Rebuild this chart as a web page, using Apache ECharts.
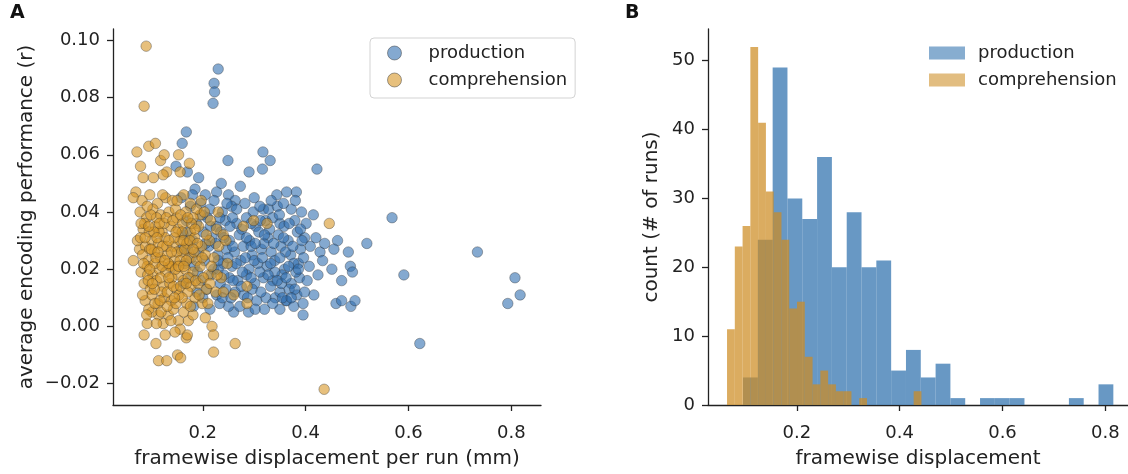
<!DOCTYPE html>
<html>
<head>
<meta charset="utf-8">
<script src="https://cdn.jsdelivr.net/npm/echarts@6/dist/echarts.min.js"></script>
<style>
  html, body { margin: 0; padding: 0; background: #fff; }
  #main { width: 1128px; height: 474px; }
</style>
</head>
<body>
<div id="main"></div>
<script>
// --- panel A: per-run framewise displacement vs. encoding performance ---
var productionPoints = [
  [0.230,0.090],[0.222,0.085],[0.223,0.082],[0.220,0.078],[0.168,0.068],[0.160,0.064],
  [0.148,0.056],[0.170,0.054],[0.192,0.052],[0.249,0.058],[0.317,0.061],[0.331,0.058],
  [0.316,0.055],[0.290,0.054],[0.363,0.047],[0.382,0.047],[0.227,0.047],[0.250,0.046],
  [0.263,0.044],[0.318,0.041],[0.328,0.041],[0.422,0.055],[0.415,0.039],[0.568,0.038],
  [0.350,0.036],[0.462,0.030],[0.483,0.026],[0.519,0.029],[0.734,0.026],[0.591,0.018],
  [0.807,0.017],[0.817,0.011],[0.793,0.008],[0.416,0.011],[0.459,0.008],[0.470,0.009],
  [0.488,0.007],[0.496,0.009],[0.487,0.021],[0.491,0.019],[0.451,0.020],[0.428,0.026],
  [0.433,0.023],[0.424,0.018],[0.407,0.021],[0.386,0.022],[0.362,0.009],[0.622,-0.006],
  [0.260,0.005],[0.250,0.007],[0.305,0.009],[0.323,0.010],[0.363,0.009],[0.341,0.010],
  [0.182,0.007],
  [0.185,0.048],[0.205,0.046],[0.273,0.049],[0.300,0.045],[0.344,0.046],[0.236,0.050],
  [0.176,0.042],[0.196,0.043],[0.214,0.041],[0.238,0.040],[0.256,0.042],[0.282,0.043],
  [0.298,0.040],[0.345,0.042],[0.372,0.041],[0.392,0.040],
  [0.168,0.037],[0.188,0.036],[0.209,0.038],[0.226,0.035],[0.244,0.037],[0.266,0.036],
  [0.285,0.038],[0.303,0.035],[0.322,0.037],[0.336,0.038],[0.358,0.035],[0.379,0.037],
  [0.401,0.036],
  [0.162,0.032],[0.181,0.030],[0.201,0.033],[0.218,0.031],[0.235,0.033],[0.252,0.030],
  [0.271,0.032],[0.291,0.030],[0.309,0.033],[0.327,0.031],[0.347,0.032],[0.366,0.030],
  [0.384,0.033],[0.398,0.031],
  [0.171,0.027],[0.192,0.026],[0.212,0.028],[0.229,0.025],[0.246,0.027],[0.262,0.026],
  [0.279,0.028],[0.296,0.025],[0.314,0.027],[0.333,0.026],[0.352,0.028],[0.371,0.025],
  [0.390,0.027],[0.409,0.028],
  [0.165,0.022],[0.184,0.021],[0.203,0.023],[0.221,0.020],[0.240,0.022],[0.257,0.021],
  [0.274,0.023],[0.290,0.020],[0.307,0.022],[0.325,0.021],[0.340,0.023],[0.359,0.020],
  [0.377,0.022],[0.396,0.024],
  [0.176,0.017],[0.197,0.016],[0.216,0.018],[0.234,0.015],[0.252,0.017],[0.268,0.016],
  [0.285,0.018],[0.301,0.015],[0.318,0.017],[0.336,0.016],[0.354,0.018],[0.372,0.015],
  [0.388,0.017],
  [0.188,0.012],[0.208,0.013],[0.227,0.011],[0.245,0.013],[0.263,0.012],[0.280,0.011],
  [0.296,0.013],[0.313,0.012],[0.332,0.014],[0.350,0.012],[0.368,0.013],[0.383,0.011],
  [0.214,0.006],[0.233,0.008],[0.272,0.007],[0.289,0.005],[0.350,0.006],[0.377,0.007],
  [0.395,0.008],
  [0.158,0.045],[0.158,0.027],[0.163,0.015],[0.199,0.039],[0.253,0.035],[0.319,0.029],
  [0.361,0.026],[0.340,0.019],[0.294,0.028],[0.230,0.020],[0.275,0.014],[0.311,0.019],
  [0.353,0.015],[0.381,0.019],[0.403,0.016],[0.420,0.031],[0.437,0.029],[0.455,0.027],
  [0.398,0.012],[0.470,0.016],[0.395,0.004],
  [0.180,0.046],[0.222,0.044],[0.247,0.043],[0.266,0.041],[0.311,0.042],[0.333,0.044],
  [0.357,0.043],[0.380,0.044],
  [0.215,0.035],[0.233,0.038],[0.258,0.038],[0.276,0.034],[0.294,0.036],[0.312,0.037],
  [0.330,0.034],[0.349,0.039],[0.368,0.036],[0.390,0.034],
  [0.225,0.029],[0.241,0.031],[0.258,0.028],[0.285,0.031],[0.302,0.029],[0.320,0.032],
  [0.338,0.029],[0.357,0.031],[0.375,0.028],[0.393,0.030],
  [0.230,0.023],[0.249,0.024],[0.265,0.022],[0.283,0.024],[0.300,0.023],[0.316,0.024],
  [0.332,0.022],[0.350,0.024],[0.367,0.021],[0.386,0.020],
  [0.241,0.018],[0.259,0.016],[0.277,0.019],[0.294,0.017],[0.327,0.018],[0.345,0.016],
  [0.362,0.017],[0.379,0.013],
  [0.238,0.010],[0.255,0.010],[0.287,0.010],[0.302,0.006],[0.320,0.006],[0.336,0.008],
  [0.355,0.010],[0.372,0.010],
  [0.170,0.033],[0.178,0.024],[0.190,0.019],[0.200,0.010],[0.205,0.029]
];

var comprehensionPoints = [
  [0.090,0.098],[0.086,0.077],[0.072,0.061],[0.095,0.063],[0.108,0.064],[0.079,0.056],
  [0.118,0.058],[0.125,0.060],[0.153,0.060],[0.174,0.057],[0.156,0.054],[0.130,0.054],
  [0.123,0.053],[0.084,0.052],[0.104,0.052],[0.070,0.047],[0.065,0.045],[0.446,0.036],
  [0.436,-0.022],[0.205,0.003],[0.218,0.000],[0.221,-0.003],[0.263,-0.006],[0.221,-0.009],
  [0.286,0.008],[0.151,-0.010],[0.157,-0.011],[0.114,-0.012],[0.130,-0.012],[0.086,-0.003],
  [0.109,-0.006],[0.127,-0.003],[0.168,-0.004],[0.170,-0.003],[0.092,0.001],[0.114,0.004],
  [0.133,0.004],[0.153,0.002],[0.172,0.002],[0.156,-0.001],[0.146,-0.002],[0.101,0.005],
  [0.123,0.001],[0.065,0.023],[0.077,0.027],[0.073,0.030],[0.260,0.011],[0.286,0.014],
  [0.325,0.036],[0.299,0.037],[0.279,0.035],[0.195,0.039],
  [0.082,0.044],[0.097,0.046],[0.112,0.043],[0.128,0.045],[0.141,0.044],[0.163,0.046],
  [0.176,0.043],[0.188,0.041],
  [0.078,0.040],[0.091,0.038],[0.103,0.041],[0.118,0.039],[0.134,0.040],[0.149,0.038],
  [0.167,0.040],[0.181,0.038],[0.203,0.040],[0.215,0.037],
  [0.084,0.034],[0.096,0.033],[0.108,0.035],[0.121,0.033],[0.138,0.035],[0.152,0.034],
  [0.161,0.036],[0.176,0.033],[0.192,0.035],[0.227,0.034],[0.240,0.032],
  [0.079,0.031],[0.089,0.028],[0.101,0.030],[0.114,0.029],[0.127,0.031],[0.143,0.028],
  [0.156,0.030],[0.169,0.029],[0.184,0.031],[0.198,0.028],[0.213,0.030],[0.231,0.028],
  [0.083,0.025],[0.094,0.023],[0.106,0.026],[0.118,0.024],[0.131,0.025],[0.145,0.023],
  [0.159,0.026],[0.173,0.024],[0.188,0.023],[0.205,0.025],[0.222,0.024],[0.248,0.022],
  [0.080,0.019],[0.092,0.021],[0.103,0.018],[0.115,0.020],[0.128,0.019],[0.140,0.021],
  [0.152,0.018],[0.166,0.020],[0.181,0.019],[0.195,0.021],[0.211,0.018],[0.236,0.017],
  [0.086,0.015],[0.098,0.013],[0.110,0.016],[0.123,0.014],[0.136,0.015],[0.149,0.013],
  [0.162,0.016],[0.177,0.014],[0.191,0.015],[0.207,0.013],[0.225,0.012],
  [0.088,0.009],[0.101,0.011],[0.113,0.008],[0.125,0.010],[0.139,0.009],[0.154,0.011],
  [0.169,0.008],[0.185,0.010],[0.199,0.008],
  [0.095,0.006],[0.119,0.005],[0.143,0.006],[0.163,0.005],[0.181,0.004],
  [0.110,0.038],[0.125,0.036],[0.147,0.041],[0.097,0.027],[0.136,0.021],[0.160,0.033],
  [0.172,0.017],[0.120,0.012],[0.145,0.031],[0.107,0.022],[0.150,0.026],[0.130,0.028],
  [0.115,0.033],[0.165,0.027],[0.178,0.036],[0.093,0.018],[0.140,0.017],
  [0.087,0.036],[0.099,0.039],[0.105,0.033],[0.116,0.036],[0.129,0.038],[0.142,0.037],
  [0.157,0.039],[0.171,0.038],[0.185,0.034],
  [0.088,0.031],[0.100,0.027],[0.111,0.031],[0.122,0.028],[0.134,0.030],[0.148,0.033],
  [0.162,0.030],[0.175,0.030],[0.190,0.029],[0.207,0.032],
  [0.085,0.022],[0.097,0.020],[0.109,0.024],[0.121,0.021],[0.133,0.022],[0.147,0.020],
  [0.156,0.023],[0.168,0.023],[0.183,0.026],[0.199,0.024],[0.217,0.021],
  [0.083,0.011],[0.094,0.016],[0.106,0.013],[0.118,0.017],[0.131,0.012],[0.143,0.014],
  [0.157,0.014],[0.171,0.012],[0.186,0.016],[0.201,0.017],[0.214,0.015],
  [0.091,0.004],[0.107,0.008],[0.131,0.007],[0.148,0.008],[0.160,0.010],[0.176,0.007],
  [0.193,0.011],[0.110,0.001],[0.138,0.002],
  [0.080,0.036],[0.092,0.042],[0.122,0.046],[0.150,0.044],[0.197,0.044],[0.230,0.040],
  [0.245,0.030],[0.228,0.018],[0.240,0.012],[0.210,0.008],
  [0.095,0.035],[0.113,0.026],[0.126,0.023],[0.139,0.026],[0.153,0.021],[0.168,0.015],
  [0.102,0.015],[0.117,0.009],[0.134,0.017],[0.145,0.010],[0.163,0.021],[0.181,0.027]
];

// --- panel B: histograms (bin start, bin width, counts) ---
var productionBinStart = 0.0955;
var productionBinWidth = 0.0288;
var productionCounts = [4,24,49,30,27,36,20,28,20,21,5,8,4,6,1,0,1,1,1,0,0,0,1,0,3];

var comprehensionBinStart = 0.0644;
var comprehensionBinWidth = 0.01512;
var comprehensionCounts = [11,23,26,52,41,31,28,24,14,15,7,3,5,3,2,2,0,1,0,0,0,0,0,0,2];

var xTicks = [0.2, 0.4, 0.6, 0.8];
var yTicksA = [-0.02, 0, 0.02, 0.04, 0.06, 0.08, 0.10];
var yTicksB = [0, 10, 20, 30, 40, 50];

var FONT = 'DejaVu Sans';
var INK = '#222';
var BLUE = 'rgba(48,110,175,0.74)';
var ORANGE = 'rgba(214,148,36,0.74)';
var HBLUE = 'rgba(62,123,180,0.78)';
var HORANGE = 'rgba(205,140,35,0.72)';
var EDGE = 'rgba(40,40,40,0.55)';

function bins(start, width, counts) {
  var out = [];
  for (var i = 0; i < counts.length; i++) {
    out.push([start + i * width, start + (i + 1) * width, counts[i]]);
  }
  return out;
}

function renderBar(params, api) {
  var top = api.coord([api.value(0), api.value(2)]);
  var bot = api.coord([api.value(1), 0]);
  return {
    type: 'rect',
    shape: { x: top[0], y: top[1], width: bot[0] - top[0], height: bot[1] - top[1] },
    style: { fill: api.visual('color') }
  };
}

function minus(s) { return s.replace('-', '\u2212'); }

function axis(extra, ticks, fmt, margin) {
  return Object.assign({
    type: 'value',
    nameLocation: 'middle',
    nameTextStyle: { fontFamily: FONT, fontSize: 20, color: INK },
    axisLine: { show: true, onZero: false, lineStyle: { color: INK, width: 1.3 } },
    axisTick: { show: true, length: 6, customValues: ticks, lineStyle: { color: INK, width: 1.3 } },
    axisLabel: { customValues: ticks, margin: margin, fontSize: 18, color: INK, fontFamily: FONT, formatter: fmt },
    splitLine: { show: false }
  }, extra);
}

var fmtX = function (v) { return v.toFixed(1); };
var fmtA = function (v) { return minus(v.toFixed(2)); };
var fmtB = function (v) { return String(Math.round(v)); };

var myChart = echarts.init(document.getElementById('main'), null, { renderer: 'canvas' });

var option = {
  animation: false,
  backgroundColor: '#fff',
  textStyle: { fontFamily: FONT },
  grid: [
    { left: 113, top: 29, width: 428, height: 378 },
    { left: 708, top: 29, right: 0, height: 378 }
  ],
  xAxis: [
    axis({ gridIndex: 0, min: 0.0255, max: 0.8576,
      name: 'framewise displacement per run (mm)', nameGap: 44 }, xTicks, fmtX, 19),
    axis({ gridIndex: 1, min: 0.0274, max: 0.844,
      name: 'framewise displacement', nameGap: 44 }, xTicks, fmtX, 19)
  ],
  yAxis: [
    axis({ gridIndex: 0, min: -0.0275, max: 0.104,
      name: 'average encoding performance (r)', nameGap: 76, nameRotate: 90 }, yTicksA, fmtA, 13),
    axis({ gridIndex: 1, min: 0, max: 54.6,
      name: 'count (# of runs)', nameGap: 46, nameRotate: 90 }, yTicksB, fmtB, 13)
  ],
  legend: [
    {
      left: 370, top: 38, orient: 'vertical', selectedMode: false,
      padding: [6, 8, 9, 17], itemGap: 9, itemWidth: 14, itemHeight: 14,
      borderColor: '#d3d3d3', borderWidth: 1, borderRadius: 4,
      backgroundColor: 'rgba(255,255,255,0.8)',
      textStyle: { fontFamily: FONT, fontSize: 18, color: INK, lineHeight: 18, padding: [0, 0, 0, 22] },
      data: [
        { name: 'production', icon: 'circle', itemStyle: { color: BLUE, borderColor: EDGE, borderWidth: 1 } },
        { name: 'comprehension', icon: 'circle', itemStyle: { color: ORANGE, borderColor: EDGE, borderWidth: 1 } }
      ]
    },
    {
      left: 929, top: 44, orient: 'vertical', selectedMode: false,
      padding: 0, itemGap: 9, itemWidth: 36, itemHeight: 13,
      textStyle: { fontFamily: FONT, fontSize: 18, color: INK, lineHeight: 18, padding: [0, 0, 0, 8] },
      data: [
        { name: 'production', icon: 'rect', itemStyle: { color: HBLUE, borderWidth: 0 } },
        { name: 'comprehension', icon: 'rect', itemStyle: { color: HORANGE, borderWidth: 0 } }
      ]
    }
  ],
  graphic: [
    { type: 'text', left: 10, top: 4, style: { text: 'A', font: 'bold 19px "DejaVu Sans"', fill: '#111' } },
    { type: 'text', left: 625, top: 4, style: { text: 'B', font: 'bold 19px "DejaVu Sans"', fill: '#111' } }
  ],
  series: [
    {
      name: 'production', type: 'scatter', xAxisIndex: 0, yAxisIndex: 0,
      symbolSize: 10.5, data: productionPoints,
      itemStyle: { color: BLUE, borderColor: EDGE, borderWidth: 0.8 }
    },
    {
      name: 'comprehension', type: 'scatter', xAxisIndex: 0, yAxisIndex: 0,
      symbolSize: 10.5, data: comprehensionPoints,
      itemStyle: { color: ORANGE, borderColor: EDGE, borderWidth: 0.8 }
    },
    {
      name: 'production', type: 'custom', xAxisIndex: 1, yAxisIndex: 1,
      renderItem: renderBar, data: bins(productionBinStart, productionBinWidth, productionCounts),
      encode: { x: [0, 1], y: 2 }, itemStyle: { color: HBLUE }, clip: true
    },
    {
      name: 'comprehension', type: 'custom', xAxisIndex: 1, yAxisIndex: 1,
      renderItem: renderBar, data: bins(comprehensionBinStart, comprehensionBinWidth, comprehensionCounts),
      encode: { x: [0, 1], y: 2 }, itemStyle: { color: HORANGE }, clip: true
    }
  ]
};

myChart.setOption(option);
</script>
</body>
</html>
